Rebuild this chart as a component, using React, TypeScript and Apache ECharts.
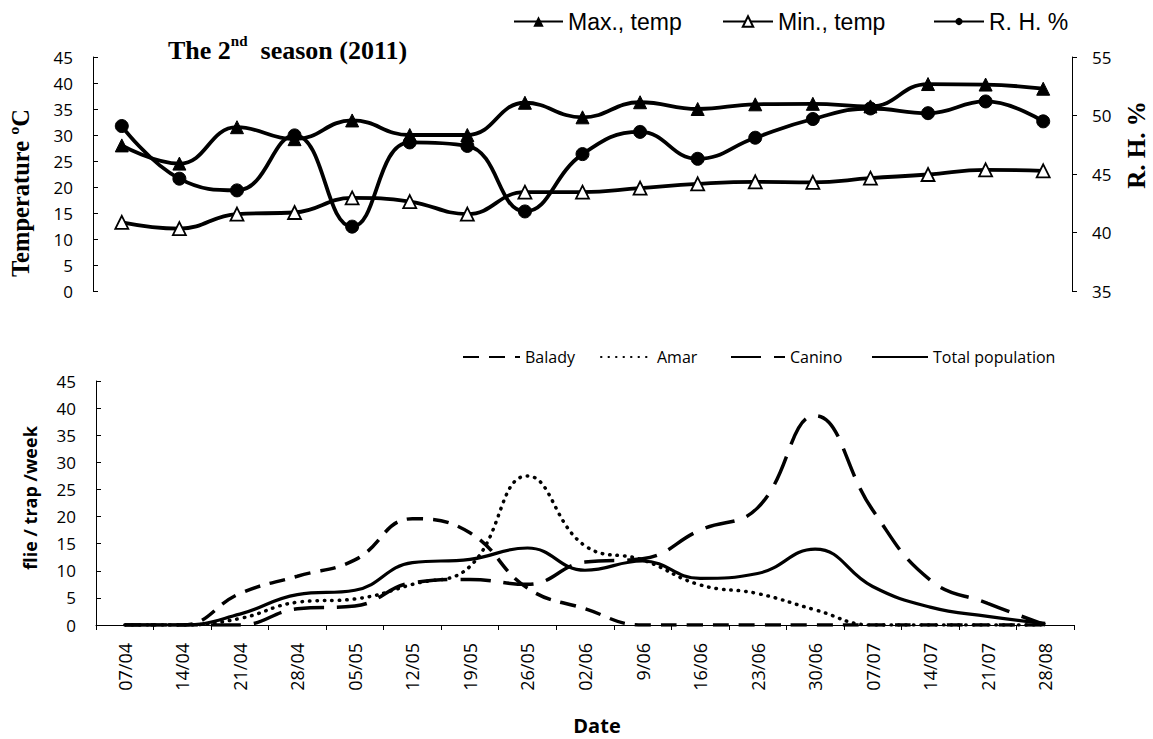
import React, { useEffect, useRef } from "react";
import * as echarts from "echarts";

const dates = ["07/04","14/04","21/04","28/04","05/05","12/05","19/05","26/05","02/06","9/06","16/06","23/06","30/06","07/07","14/07","21/07","28/08"];
const maxTemp = [28, 24.5, 31.5, 29.2, 32.8, 30, 30, 36.2, 33.4, 36.3, 35, 35.9, 36, 35.5, 39.8, 39.7, 38.9];
const minTemp = [13.2, 12, 14.8, 15.1, 17.9, 17.2, 14.8, 19, 19, 19.8, 20.6, 21, 20.9, 21.7, 22.4, 23.3, 23.1];
const rh = [49.1, 44.6, 43.6, 48.3, 40.5, 47.7, 47.4, 41.8, 46.7, 48.6, 46.3, 48.1, 49.7, 50.6, 50.2, 51.2, 49.5];
const balady = [0, 0, 5.8, 9, 12, 19.6, 17, 6.8, 3, 0, 0, 0, 0, 0, 0, 0, 0];
const amar = [0, 0, 1.2, 4.2, 4.8, 7.5, 10.8, 27.5, 14.6, 12, 7.4, 5.8, 2.8, 0, 0, 0, 0];
const canino = [0, 0, 0, 3, 3.5, 7.8, 8.4, 7.5, 11.6, 12.2, 17.5, 21.6, 38.6, 21.2, 8.3, 4, 0];
const total = [0, 0, 2, 5.6, 6.4, 11.5, 12.1, 14.2, 10.1, 11.8, 8.6, 9.5, 14, 7.1, 3.3, 1.6, 0.3];
const tempTicks = { min: 0, max: 45, interval: 5 };
const rhTicks = { min: 35, max: 55, interval: 5 };
const popTicks = { min: 0, max: 45, interval: 5 };

const SANS = "'Open Sans', 'Liberation Sans', sans-serif";
const NARROW = "'Liberation Sans Narrow', 'Liberation Sans', sans-serif";
const SERIF = "'Liberation Serif', 'DejaVu Serif', serif";

export default function App() {
  const ref = useRef<HTMLDivElement>(null);
  useEffect(() => {
    if (!ref.current) return;
    const chart = echarts.init(ref.current, null, { renderer: "svg" });
    const topLegendText = { fontFamily: NARROW, fontSize: 23, color: "#000" };
    const botLegendText = { fontFamily: SANS, fontSize: 16, color: "#000" };
    const axisLabel = { fontFamily: SANS, fontSize: 17, color: "#000" };
    const hideSym = { color: "transparent", borderColor: "transparent", opacity: 0 };
    chart.setOption({
      animation: false,
      backgroundColor: "#fff",
      grid: [
        { left: 93, top: 57, width: 979, height: 234 },
        { left: 96, top: 381, width: 978, height: 244 },
      ],
      legend: [
        { data: ["Max., temp"], left: 508, top: 5, itemWidth: 49, itemHeight: 13, itemGap: 0, textStyle: topLegendText },
        { data: ["Min., temp"], left: 717, top: 5, itemWidth: 50, itemHeight: 13, itemGap: 0, textStyle: topLegendText },
        { data: ["R. H. %"], left: 928, top: 5, itemWidth: 50, itemHeight: 9, itemGap: 0, textStyle: topLegendText },
        { data: ["Balady"], left: 457, top: 344, itemWidth: 57, itemHeight: 10, itemGap: 0, textStyle: botLegendText, itemStyle: hideSym },
        { data: ["Amar"], left: 595, top: 344, itemWidth: 51, itemHeight: 10, itemGap: 0, textStyle: botLegendText, itemStyle: hideSym },
        { data: ["Canino"], left: 725, top: 344, itemWidth: 54, itemHeight: 10, itemGap: 0, textStyle: botLegendText, itemStyle: hideSym },
        { data: ["Total population"], left: 866, top: 344, itemWidth: 56, itemHeight: 10, itemGap: 0, textStyle: botLegendText, itemStyle: hideSym },
      ],
      xAxis: [
        { type: "category", gridIndex: 0, data: dates, boundaryGap: true, show: false },
        {
          type: "category", gridIndex: 1, data: dates, boundaryGap: true,
          axisLine: { lineStyle: { color: "#000", width: 1 } },
          axisTick: { show: true, length: 5, lineStyle: { color: "#000" } },
          axisLabel: { rotate: 90, margin: 18, fontFamily: SANS, fontSize: 18, color: "#000", interval: 0 },
        },
      ],
      yAxis: [
        {
          type: "value", gridIndex: 0, ...tempTicks,
          axisLine: { show: true, lineStyle: { color: "#000" } },
          axisTick: { show: true, inside: true, length: 5, lineStyle: { color: "#000" } },
          splitLine: { show: false },
          axisLabel: { ...axisLabel, margin: 20 },
        },
        {
          type: "value", gridIndex: 0, position: "right", ...rhTicks,
          axisLine: { show: true, lineStyle: { color: "#000" } },
          axisTick: { show: true, length: 5, lineStyle: { color: "#000" } },
          splitLine: { show: false },
          axisLabel: { ...axisLabel, margin: 20 },
        },
        {
          type: "value", gridIndex: 1, ...popTicks,
          axisLine: { show: true, lineStyle: { color: "#000" } },
          axisTick: { show: true, inside: true, length: 5, lineStyle: { color: "#000" } },
          splitLine: { show: false },
          axisLabel: { ...axisLabel, margin: 20 },
        },
      ],
      series: [
        {
          name: "Max., temp", type: "line", xAxisIndex: 0, yAxisIndex: 0, data: maxTemp, smooth: 0.45,
          symbol: "triangle", symbolSize: 13,
          lineStyle: { color: "#000", width: 3.8 }, itemStyle: { color: "#000", borderColor: "#000" },
        },
        {
          name: "Min., temp", type: "line", xAxisIndex: 0, yAxisIndex: 0, data: minTemp, smooth: 0.45,
          symbol: "triangle", symbolSize: 13,
          lineStyle: { color: "#000", width: 3.8 }, itemStyle: { color: "#fff", borderColor: "#000", borderWidth: 1.8 },
        },
        {
          name: "R. H. %", type: "line", xAxisIndex: 0, yAxisIndex: 1, data: rh, smooth: 0.45,
          symbol: "circle", symbolSize: 13,
          lineStyle: { color: "#000", width: 3.8 }, itemStyle: { color: "#000", borderColor: "#000" },
        },
        {
          name: "Balady", type: "line", xAxisIndex: 1, yAxisIndex: 2, data: balady, smooth: 0.45, symbol: "none",
          lineStyle: { color: "#000", width: 3.5, type: [16, 10] }, itemStyle: { color: "#000" },
        },
        {
          name: "Amar", type: "line", xAxisIndex: 1, yAxisIndex: 2, data: amar, smooth: 0.45, symbol: "none",
          lineStyle: { color: "#000", width: 3.5, type: [0.5, 7], cap: "round" }, itemStyle: { color: "#000" },
        },
        {
          name: "Canino", type: "line", xAxisIndex: 1, yAxisIndex: 2, data: canino, smooth: 0.45, symbol: "none",
          lineStyle: { color: "#000", width: 3.5, type: [30, 13] }, itemStyle: { color: "#000" },
        },
        {
          name: "Total population", type: "line", xAxisIndex: 1, yAxisIndex: 2, data: total, smooth: 0.45, symbol: "none",
          lineStyle: { color: "#000", width: 3.2 }, itemStyle: { color: "#000" },
        },
      ],
      graphic: [
        {
          type: "text", x: 168, y: 33,
          style: {
            text: "{a|The 2}{s|nd}{a|  season (2011)}",
            rich: {
              a: { fontFamily: SERIF, fontWeight: "bold", fontSize: 26, lineHeight: 30, verticalAlign: "bottom", fill: "#000" },
              s: { fontFamily: SERIF, fontWeight: "bold", fontSize: 15, lineHeight: 30, verticalAlign: "top", fill: "#000" },
            },
          },
        },
        {
          type: "text", x: 20, y: 193, rotation: Math.PI / 2,
          style: { text: "Temperature ºC", align: "center", verticalAlign: "middle", fontFamily: SERIF, fontWeight: "bold", fontSize: 24.5, fill: "#000" },
        },
        {
          type: "text", x: 1136, y: 145, rotation: Math.PI / 2,
          style: { text: "R. H. %", align: "center", verticalAlign: "middle", fontFamily: SERIF, fontWeight: "bold", fontSize: 25, fill: "#000" },
        },
        {
          type: "text", x: 30, y: 498, rotation: Math.PI / 2,
          style: { text: "flie / trap /week", align: "center", verticalAlign: "middle", fontFamily: SANS, fontWeight: "bold", fontSize: 18, fill: "#000" },
        },
        {
          type: "text", x: 597, y: 725,
          style: { text: "Date", align: "center", verticalAlign: "middle", fontFamily: SANS, fontWeight: "bold", fontSize: 20, fill: "#000" },
        },
      ],
    });
    return () => chart.dispose();
  }, []);
  return <div ref={ref} style={{ width: 1153, height: 739, position: "absolute", left: 0, top: 0 }} />;
}
